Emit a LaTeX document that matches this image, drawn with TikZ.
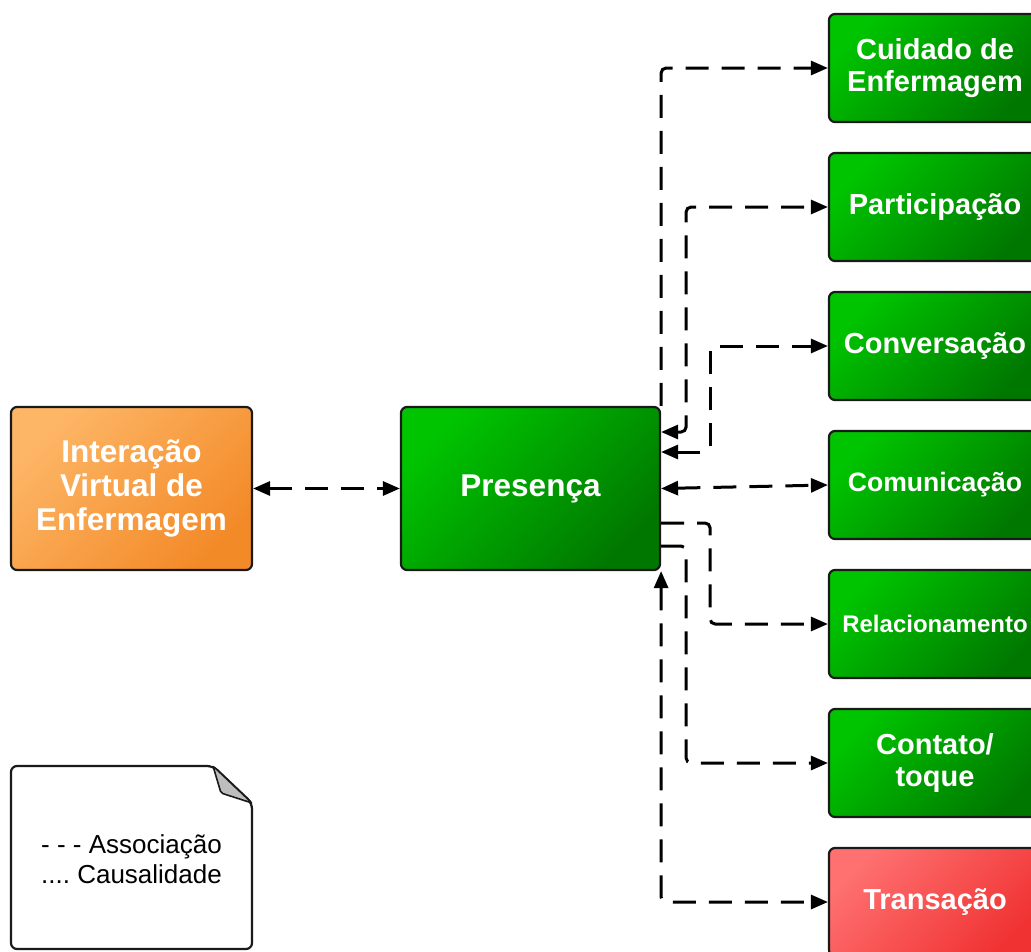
\documentclass[tikz,border=0pt]{standalone}
\usepackage{fontspec}
\setmainfont{Liberation Sans}
\usetikzlibrary{arrows.meta,calc}
\definecolor{gA}{HTML}{00C400}
\definecolor{gB}{HTML}{007800}
\definecolor{oA}{HTML}{FDB666}
\definecolor{oB}{HTML}{F38A28}
\definecolor{rA}{HTML}{FF7070}
\definecolor{rB}{HTML}{F03232}
\definecolor{edge}{HTML}{1A1A1A}
\definecolor{fold}{HTML}{BDBDBD}
\tikzset{
  box/.style={draw=edge, line width=2.2pt, rounded corners=6pt, inner sep=0pt,
    text=white, align=center},
  greenbox/.style={box, top color=gA, bottom color=gB, shading angle=45},
  orangebox/.style={box, top color=oA, bottom color=oB, shading angle=45},
  redbox/.style={box, top color=rA, bottom color=rB, shading angle=45},
  rightbox/.style={minimum width=212pt, minimum height=108pt,
    font=\bfseries\fontsize{29}{32.5}\selectfont},
  bigbox/.style={minimum width=259pt, minimum height=163pt,
    font=\bfseries\fontsize{31.5}{34}\selectfont},
  assoc/.style={draw=black, line width=3pt, dash pattern=on 23pt off 13pt,
    rounded corners=5pt},
  endarrow/.style={-{Triangle[length=17pt,width=14pt]}},
  botharrow/.style={{Triangle[length=17pt,width=14pt]}-{Triangle[length=17pt,width=14pt]}},
}
\begin{document}
\frenchspacing
\begin{tikzpicture}[x=1pt,y=-1pt]
\useasboundingbox (0,0) rectangle (1031,951);
\clip (0,0) rectangle (1031,951);
\fill[white] (0,0) rectangle (1031,951);

% main boxes
\node[orangebox,bigbox,minimum width=241pt] (inter) at (131.5,488.5) {Interação\\Virtual de\\Enfermagem};
\node[greenbox,bigbox] (pres) at (530.5,488.5) {Presença};

% right boxes
\node[greenbox,rightbox] (cuid) at (935,68) {Cuidado de\\Enfermagem};
\node[greenbox,rightbox] (part) at (935,207) {Participação};
\node[greenbox,rightbox] (conv) at (935,346) {Conversação};
\node[greenbox,rightbox,font=\bfseries\fontsize{26.6}{30}\selectfont] (comu) at (935,485) {Comunicação};
\node[greenbox,rightbox,font=\bfseries\fontsize{24}{28}\selectfont] (rela) at (935,624) {Relacionamento};
\node[greenbox,rightbox] (cont) at (935,763) {Contato/\\toque};
\node[redbox,rightbox] (tran) at (935,902) {Transação};

% note
\draw[draw=edge, line width=2.2pt, fill=white, rounded corners=6pt]
  (11,766) -- (213,766) -- (252,803) -- (252,949) -- (11,949) -- cycle;
\draw[draw=edge, line width=1.6pt, fill=fold, rounded corners=2pt]
  (213,766) -- (221,793) -- (252,803) -- cycle;
\node[font=\fontsize{26}{29.5}\selectfont, align=center, inner sep=0pt] (note) at (131.5,859)
  {- - - Associação\\.... Causalidade};

% connection points on Presença
\coordinate (pa) at ($(pres.east)+(0,-56.5)$);
\coordinate (pb) at ($(pres.east)+(0,-36.5)$);
\coordinate (pc) at ($(pres.east)+(0,34.5)$);
\coordinate (pd) at ($(pres.east)+(0,57.5)$);

% connectors
\draw[assoc,botharrow] (inter.east) -- (pres.west);
\draw[assoc,endarrow] (pres.north east) |- (cuid.west);
\draw[assoc,botharrow] (pa) -- ++(25,0) |- (part.west);
\draw[assoc,botharrow] (pb) -- ++(49,0) |- (conv.west);
\draw[assoc,botharrow] (pres.east) -- (comu.west);
\draw[assoc,endarrow] (pc) -- ++(49,0) |- (rela.west);
\draw[assoc,endarrow] (pd) -- ++(25,0) |- (cont.west);
\draw[assoc,botharrow] (pres.south east) |- (tran.west);
\end{tikzpicture}
\end{document}
